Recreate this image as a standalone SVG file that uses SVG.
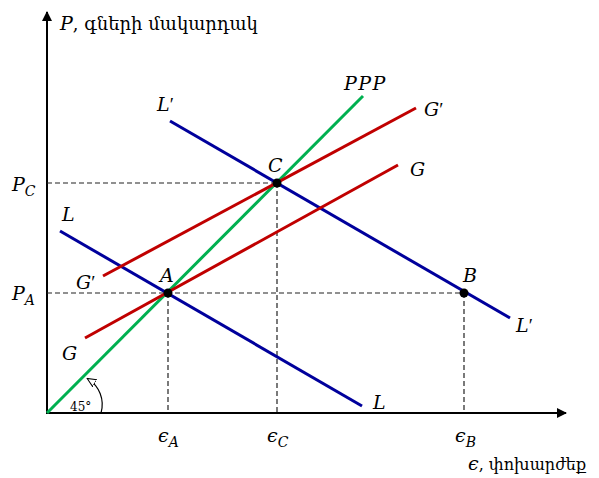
<svg xmlns="http://www.w3.org/2000/svg" width="599" height="478" viewBox="0 0 599 478">
<style>
.m{font-family:"DejaVu Serif","Liberation Serif",serif;font-style:italic;font-size:19px;fill:#000}
.s{font-size:14px}
.p{font-family:"Liberation Serif",serif;font-style:normal}
.t{font-family:"DejaVu Serif","Noto Sans",serif;font-size:18px;fill:#000}
.t2{font-family:"DejaVu Serif","Noto Sans",serif;font-size:16px;fill:#000}
.ax{stroke:#000;stroke-width:2;fill:none}
.d{stroke:#222;stroke-width:1.2;stroke-dasharray:5,3;fill:none}
.b{stroke:#00009c;stroke-width:3;fill:none}
.r{stroke:#c00000;stroke-width:3;fill:none}
.g{stroke:#00b050;stroke-width:3;fill:none}
</style>
<defs>
<marker id="ah" markerWidth="10" markerHeight="10" refX="9" refY="5" orient="auto" markerUnits="userSpaceOnUse">
<path d="M0,0 L10,5 L0,10 Z" fill="#000"/>
</marker>
<marker id="oh" markerWidth="10" markerHeight="10" refX="8" refY="5" orient="auto" markerUnits="userSpaceOnUse">
<path d="M0,1 L9,5 L0,9 Z" fill="#fff" stroke="#000" stroke-width="1"/>
</marker>
</defs>
<g id="axes">
<line class="ax" x1="47" y1="414" x2="47" y2="12" marker-end="url(#ah)"/>
<line class="ax" x1="46" y1="413" x2="566" y2="413" marker-end="url(#ah)"/>
<text class="m" x="60" y="30">P<tspan font-style="normal" class="t">, գների մակարդակ</tspan></text>
<text class="m" x="468" y="470">ϵ<tspan font-style="normal" class="t2">, փոխարժեք</tspan></text>
</g>
<g id="guides">
<line class="d" x1="47" y1="293" x2="464" y2="293"/>
<line class="d" x1="47" y1="183" x2="277" y2="183"/>
<line class="d" x1="168" y1="293" x2="168" y2="413"/>
<line class="d" x1="277" y1="183" x2="277" y2="413"/>
<line class="d" x1="464" y1="293" x2="464" y2="413"/>
</g>
<g id="connectors">
<line id="PPP" class="g" x1="47" y1="413" x2="363" y2="96"/>
<line id="Lline" class="b" x1="60" y1="231" x2="362" y2="406"/>
<line id="Lpline" class="b" x1="170" y1="121" x2="510" y2="318"/>
<line id="Gline" class="r" x1="85" y1="338" x2="398" y2="165"/>
<line id="Gpline" class="r" x1="103" y1="276" x2="416" y2="108"/>
<path id="angle" d="M101,413 A30,30 0 0 0 88,379" fill="none" stroke="#000" stroke-width="1.2" marker-end="url(#oh)"/>
</g>
<g id="pointA"><circle cx="168" cy="293" r="4.5" fill="#000"/><text class="m" x="160" y="282">A</text></g>
<g id="pointC"><circle cx="277" cy="183" r="4.5" fill="#000"/><text class="m" x="268" y="172">C</text></g>
<g id="pointB"><circle cx="464" cy="293" r="4.5" fill="#000"/><text class="m" x="463" y="282">B</text></g>
<g id="labels">
<text class="m" x="12" y="191">P<tspan class="s" dy="5">C</tspan></text>
<text class="m" x="12" y="300">P<tspan class="s" dy="5">A</tspan></text>
<text class="m" x="62" y="221">L</text>
<text class="m" x="76" y="289">G<tspan class="p">′</tspan></text>
<text class="m" x="62" y="360">G</text>
<text class="m" x="157" y="111">L<tspan class="p">′</tspan></text>
<text class="m" x="344" y="90" letter-spacing="1.5">PPP</text>
<text class="m" x="424" y="116">G<tspan class="p">′</tspan></text>
<text class="m" x="410" y="176">G</text>
<text class="m" x="516" y="332">L<tspan class="p">′</tspan></text>
<text class="m" x="373" y="409">L</text>
<text class="m" x="158" y="442">ϵ<tspan class="s" dy="5">A</tspan></text>
<text class="m" x="267" y="442">ϵ<tspan class="s" dy="5">C</tspan></text>
<text class="m" x="455" y="442">ϵ<tspan class="s" dy="5">B</tspan></text>
<text font-family="DejaVu Serif,serif" font-size="12" x="70" y="411">45°</text>
</g>
</svg>
